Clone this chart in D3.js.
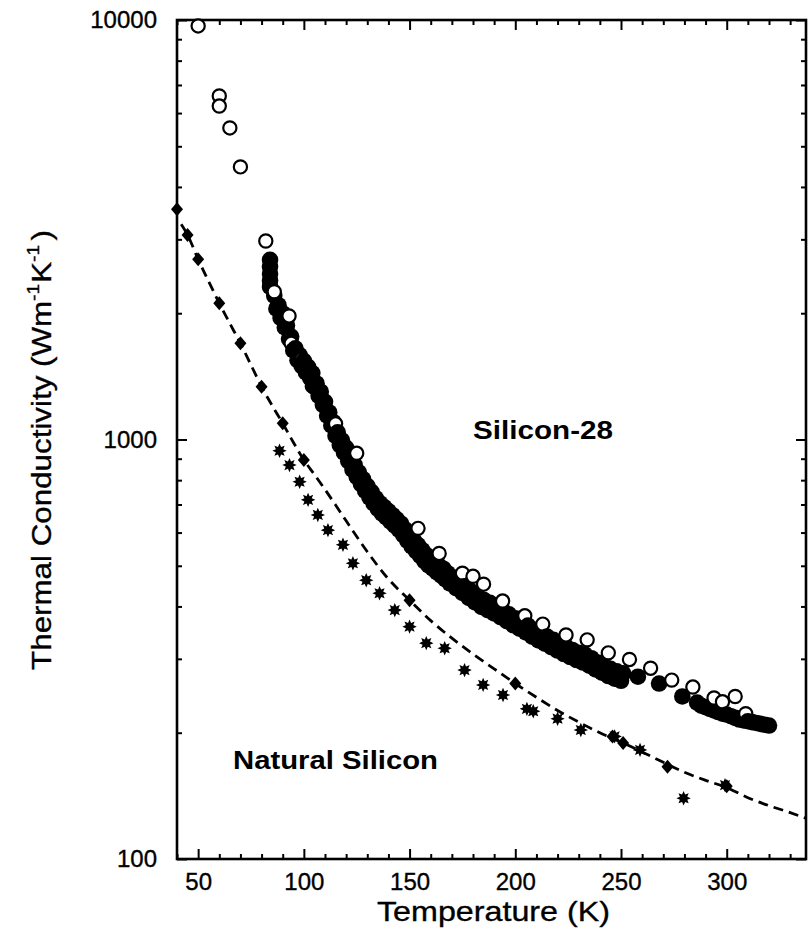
<!DOCTYPE html>
<html>
<head>
<meta charset="utf-8">
<script src="https://cdn.jsdelivr.net/npm/d3@7"></script>
<style>
  html, body { margin: 0; padding: 0; background: #fff; }
  svg { display: block; }
  text { font-family: "Liberation Sans", Arial, Helvetica, sans-serif; fill: #000; }
</style>
</head>
<body>
<svg id="chart" width="812" height="934"></svg>
<script>
// ---------- DATA ----------
// Silicon-28, open circles: [T (K), k (W m^-1 K^-1)]
const si28OpenT = [50, 60, 60, 65, 70, 82, 86, 93, 94, 99, 104, 115, 125, 154, 164, 175, 180, 185, 194, 204.5, 213, 224, 234, 244, 254, 264, 274, 284, 294, 298, 304, 309];
const si28OpenK = [9680, 6590, 6235, 5530, 4465, 2973, 2250, 1970, 1695, 1555, 1340, 1090, 927, 614, 535, 480, 472, 452, 412, 380, 363, 342, 333, 310, 299, 285, 267, 257, 242, 237, 244, 222];

// Silicon-28, filled circles (upper part of the band)
const si28FilledT = [84, 84, 84, 84, 84, 86, 88, 90, 92, 94, 96, 98, 100, 102, 104, 106, 108, 110, 112, 114, 116, 118, 120, 122, 124, 126, 128, 130, 132, 134, 136, 138, 140, 142, 144, 146, 148, 150, 152, 154, 156, 158, 160, 162, 164, 166, 168, 170, 173, 176, 179, 182, 185, 188, 191, 194, 197, 200, 203, 206, 209, 212, 215, 218, 221, 224, 227, 230, 233, 236, 239, 242, 245, 248, 251, 258, 268, 279, 286, 288, 290, 292, 294, 296, 298, 300, 302, 304, 306, 308, 310, 312, 314, 316, 318, 320];
const si28FilledK = [2680, 2580, 2480, 2390, 2310, 2200, 2090, 2000, 1870, 1760, 1650, 1590, 1540, 1490, 1440, 1360, 1300, 1230, 1160, 1100, 1040, 995, 955, 905, 870, 835, 805, 775, 750, 725, 705, 690, 675, 660, 645, 630, 610, 590, 575, 560, 545, 530, 520, 510, 500, 492, 480, 470, 460, 447, 435, 425, 415, 408, 400, 392, 383, 375, 368, 360, 352, 345, 339, 333, 327, 321, 315, 310, 307, 301, 294, 289, 284, 280, 277, 272, 262, 244, 236, 232, 230, 228, 226, 224, 222, 221, 219, 217, 215, 214, 213, 212, 211, 210, 209, 208];

// Silicon-28, filled circles (lower part of the band)
const si28FilledBT = [87, 89, 91, 93, 95, 97, 99, 101, 103, 105, 107, 109, 111, 113, 115, 117, 119, 121, 123, 125, 127, 129, 131, 133, 135, 137, 139, 141, 143, 145, 147, 149, 151, 153, 155, 157, 159, 161, 163, 165, 167, 169, 172, 175, 178, 181, 184, 187, 190, 193, 196, 199, 202, 205, 208, 211, 214, 217, 220, 223, 226, 229, 232, 235, 238, 241, 244, 247, 250];
const si28FilledBK = [2050, 1950, 1850, 1735, 1630, 1545, 1495, 1445, 1400, 1335, 1270, 1210, 1140, 1080, 1020, 970, 930, 888, 847, 814, 783, 754, 728, 704, 683, 666, 652, 637, 623, 609, 592, 573, 556, 542, 528, 513, 501, 492, 482, 474, 464, 454, 442, 431, 419, 409, 399, 392, 385, 377, 369, 361, 354, 347, 339, 332, 326, 320, 314, 308, 303, 298, 294, 289, 283, 278, 273, 269, 266];

// Natural silicon, diamonds
const natDiamondT = [40, 45, 50, 60, 70, 80, 90, 100, 150, 200, 246, 251, 272, 300];
const natDiamondK = [3537, 3074, 2688, 2112, 1695, 1336, 1093, 894, 414, 262, 196, 189, 166, 149];

// Natural silicon, asterisks
const natStarT = [88.5, 93.2, 98, 102, 106.6, 111.4, 118.5, 123.2, 129.5, 135.8, 143, 150, 157.9, 166.6, 176, 184.8, 194.2, 205.5, 208.5, 220, 231, 247, 259, 279.6, 299.2];
const natStarK = [940, 869, 793, 718, 661, 608, 561, 507, 462, 430, 392, 358, 327, 318, 282, 260, 246, 228, 225, 216, 203, 196, 182, 139.6, 150];

// Dashed fit curve for natural silicon
const fitT = [42, 45, 50, 55, 60, 65, 70, 75, 80, 85, 90, 95, 100, 105, 110, 115, 120, 130, 140, 150, 160, 170, 180, 190, 200, 210, 220, 230, 240, 250, 260, 270, 280, 290, 300, 310, 320, 330, 337.5];
const fitK = [3260, 3074, 2688, 2380, 2112, 1890, 1695, 1505, 1336, 1205, 1093, 985, 894, 825, 760, 698, 640, 540, 465, 414, 370, 336, 308, 284, 262, 243, 226, 212, 200, 190, 180, 170, 161, 154, 148, 140, 134, 129, 125];

// Axes
const xDomain = [40, 337.5];
const yDomain = [100, 10000];
const xTickLabels = [50, 100, 150, 200, 250, 300];
const yTickLabels = [100, 1000, 10000];
const xTitle = "Temperature (K)";
const yTitleParts = ["Thermal Conductivity (Wm", "-1", "K", "-1", ")"];
const labelSi28 = "Silicon-28";
const labelNatural = "Natural Silicon";

// ---------- LAYOUT ----------
const L = 177, R = 806, T = 20, B = 859;
const svg = d3.select("#chart");
svg.append("rect").attr("width", 812).attr("height", 934).attr("fill", "#fff");

const x = d3.scaleLinear().domain(xDomain).range([L, R]);
const y = d3.scaleLog().domain(yDomain).range([B, T]);

const xMinor = d3.range(40, 338, 10).filter(v => !xTickLabels.includes(v));
const yMinor = [200, 300, 400, 500, 600, 700, 800, 900, 2000, 3000, 4000, 5000, 6000, 7000, 8000, 9000];

const FONT = '"Liberation Sans", Arial, Helvetica, sans-serif';

function styleAxis(g) {
  g.selectAll(".domain").remove();
  g.selectAll(".tick line").attr("stroke", "#000").attr("stroke-width", 2);
  g.selectAll("text").attr("font-family", FONT).attr("fill", "#000")
    .attr("stroke", "#000").attr("stroke-width", 0.35);
}

// bottom
svg.append("g").attr("transform", `translate(0,${B})`)
  .call(d3.axisBottom(x).tickValues(xTickLabels).tickSize(-10).tickPadding(14).tickFormat(d3.format("d")))
  .call(styleAxis).selectAll("text").attr("font-size", 24);
svg.append("g").attr("transform", `translate(0,${B})`)
  .call(d3.axisBottom(x).tickValues(xMinor).tickSize(-5).tickFormat(""))
  .call(styleAxis);
// top
svg.append("g").attr("transform", `translate(0,${T})`)
  .call(d3.axisTop(x).tickValues(xTickLabels).tickSize(-10).tickFormat(""))
  .call(styleAxis);
svg.append("g").attr("transform", `translate(0,${T})`)
  .call(d3.axisTop(x).tickValues(xMinor).tickSize(-5).tickFormat(""))
  .call(styleAxis);
// left
svg.append("g").attr("transform", `translate(${L},0)`)
  .call(d3.axisLeft(y).tickValues(yTickLabels).tickSize(-10).tickPadding(20).tickFormat(d3.format("d")))
  .call(styleAxis).selectAll("text").attr("font-size", 24);
svg.append("g").attr("transform", `translate(${L},0)`)
  .call(d3.axisLeft(y).tickValues(yMinor).tickSize(-5).tickFormat(""))
  .call(styleAxis);
// right
svg.append("g").attr("transform", `translate(${R},0)`)
  .call(d3.axisRight(y).tickValues(yTickLabels).tickSize(-10).tickFormat(""))
  .call(styleAxis);
svg.append("g").attr("transform", `translate(${R},0)`)
  .call(d3.axisRight(y).tickValues(yMinor).tickSize(-5).tickFormat(""))
  .call(styleAxis);

// frame
svg.append("rect").attr("x", L).attr("y", T).attr("width", R - L).attr("height", B - T)
  .attr("fill", "none").attr("stroke", "#000").attr("stroke-width", 2.6);

// ---------- MARKS ----------
const plot = svg.append("g");

// dashed fit line
const fitData = fitT.map((t, i) => ({ t, k: fitK[i] }));
plot.append("path").datum(fitData)
  .attr("fill", "none").attr("stroke", "#000").attr("stroke-width", 2.8)
  .attr("stroke-dasharray", "10,6")
  .attr("d", d3.line().x(d => x(d.t)).y(d => y(d.k)).curve(d3.curveMonotoneX));

// diamonds
const diamond = "M0,-7L6,0L0,7L-6,0Z";
plot.selectAll(".dia").data(natDiamondT.map((t, i) => ({ t, k: natDiamondK[i] })))
  .join("path").attr("class", "dia")
  .attr("transform", d => `translate(${x(d.t)},${y(d.k)})`)
  .attr("d", diamond).attr("fill", "#000");

// 8-point stars
const starPts = d3.range(16).map(i => {
  const a = i * Math.PI / 8;
  const r = i % 2 === 0 ? 7.2 : 4.0;
  return [a, r];
});
const starPath = d3.lineRadial().angle(d => d[0]).radius(d => d[1]).curve(d3.curveLinearClosed)(starPts);
plot.selectAll(".star").data(natStarT.map((t, i) => ({ t, k: natStarK[i] })))
  .join("path").attr("class", "star")
  .attr("transform", d => `translate(${x(d.t)},${y(d.k)})`)
  .attr("d", starPath).attr("fill", "#000");

// Silicon-28 circles, drawn in temperature order
const si28 = si28FilledT.map((t, i) => ({ t, k: si28FilledK[i], open: false }))
  .concat(si28FilledBT.map((t, i) => ({ t, k: si28FilledBK[i], open: false })))
  .concat(si28OpenT.map((t, i) => ({ t, k: si28OpenK[i], open: true })))
  .sort((a, b) => a.t - b.t || (a.open ? 1 : -1));
plot.selectAll(".si").data(si28).join("circle").attr("class", "si")
  .attr("cx", d => x(d.t)).attr("cy", d => y(d.k))
  .attr("r", d => d.open ? 6.6 : 8.3)
  .attr("fill", d => d.open ? "#fff" : "#000")
  .attr("stroke", "#000")
  .attr("stroke-width", d => d.open ? 2.2 : 0);

// ---------- TEXT ----------
function fitWidth(sel, w) {
  sel.attr("textLength", w).attr("lengthAdjust", "spacingAndGlyphs");
}
svg.append("text").attr("x", (L + R) / 2 + 2).attr("y", 921)
  .attr("text-anchor", "middle").attr("font-size", 28)
  .attr("stroke", "#000").attr("stroke-width", 0.35).text(xTitle)
  .call(fitWidth, 233);

svg.append("text").attr("x", 473).attr("y", 439)
  .attr("font-size", 26).attr("font-weight", "bold").text(labelSi28)
  .call(fitWidth, 140);
svg.append("text").attr("x", 233).attr("y", 769)
  .attr("font-size", 26).attr("font-weight", "bold").text(labelNatural)
  .call(fitWidth, 205);

// y title (rotated), stretched to match
const yt = svg.append("g");
const ytText = yt.append("text").attr("text-anchor", "middle").attr("font-size", 28)
  .attr("stroke", "#000").attr("stroke-width", 0.35);
ytText.append("tspan").text(yTitleParts[0]);
ytText.append("tspan").attr("font-size", 17).attr("dy", -12).text(yTitleParts[1]);
ytText.append("tspan").attr("dy", 12).attr("dx", 1).text(yTitleParts[2]);
ytText.append("tspan").attr("font-size", 17).attr("dy", -12).text(yTitleParts[3]);
ytText.append("tspan").attr("dy", 12).attr("dx", 4).text(yTitleParts[4]);
const bb = ytText.node().getBBox();
const sx = 440 / bb.width;
yt.attr("transform", `translate(51,450) rotate(-90) scale(${sx},1)`);
</script>
</body>
</html>
